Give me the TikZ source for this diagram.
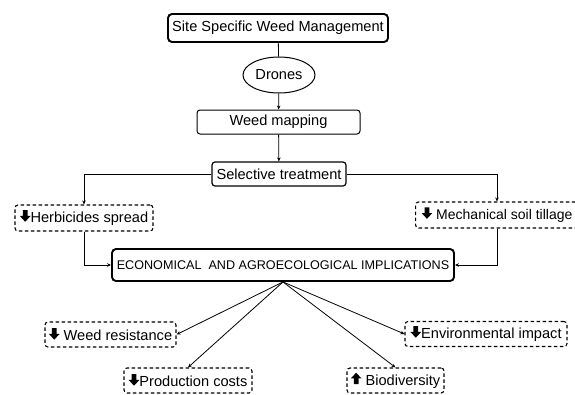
\documentclass[tikz,border=0pt]{standalone}
\usepackage{fontspec}
\setmainfont{Liberation Sans}
\usetikzlibrary{shapes.geometric, arrows.meta, positioning}

% thick block arrows used inside the effect boxes
\newcommand{\dnarr}{\tikz[baseline=-1pt,x=1pt,y=1pt,solid,sharp corners]\fill (-2.4,11.5) -- (2.4,11.5) -- (2.4,5.8) -- (5.4,5.8) -- (0,0) -- (-5.4,5.8) -- (-2.4,5.8) -- cycle;}
\newcommand{\uparr}{\tikz[baseline=-1pt,x=1pt,y=1pt,solid,sharp corners]\fill (-2.4,0) -- (2.4,0) -- (2.4,5.8) -- (5.4,5.8) -- (0,11.5) -- (-5.4,5.8) -- (-2.4,5.8) -- cycle;}

\begin{document}
\begin{tikzpicture}[x=1pt, y=-1pt,
    stepbox/.style={rectangle, draw, rounded corners=3pt, line width=1pt,
                    inner sep=0pt, font=\fontsize{14.6}{16}\selectfont},
    effect/.style={stepbox, dashed, dash pattern=on 3.5pt off 2.5pt, line width=1.1pt},
    link/.style={draw, line width=0.8pt, -{Stealth[length=4pt,width=3.5pt]}}
]
    \useasboundingbox (0,0) rectangle (575,394);
    \node[stepbox, line width=1.9pt, rounded corners=4pt, minimum width=220pt, minimum height=28pt] (sswm) at (278,28) {Site Specific Weed Management};
    \node[ellipse, draw, line width=1pt, minimum width=72pt, minimum height=36pt, inner sep=0pt, font=\fontsize{14.6}{16}\selectfont] (drones) at (279,75) {Drones};
    \node[stepbox, minimum width=163pt, minimum height=24pt] (mapping) at (278.5,122) {Weed mapping};
    \node[stepbox, line width=1.2pt, minimum width=134pt, minimum height=24pt] (select) at (279,174) {Selective treatment};
    \node[effect, minimum width=138pt, minimum height=26pt] (herb) at (84,218) {\dnarr Herbicides spread};
    \node[effect, anchor=west, inner xsep=6pt, minimum height=26pt, font=\fontsize{14}{16}\selectfont] (tillage) at (415,215) {\dnarr\ Mechanical soil tillage};
    \node[stepbox, line width=1.9pt, rounded corners=4pt, minimum width=342pt, minimum height=32pt, font=\fontsize{12.6}{14}\selectfont] (econ) at (283,265) {ECONOMICAL\ \ AND AGROECOLOGICAL IMPLICATIONS};
    \node[effect, minimum width=131pt, minimum height=25pt] (resist) at (110.5,334.5) {\dnarr\ Weed resistance};
    \node[effect, minimum width=128pt, minimum height=25pt] (costs) at (188,380.5) {\dnarr Production costs};
    \node[effect, minimum width=162pt, minimum height=25pt] (envir) at (486,334) {\dnarr Environmental impact};
    \node[effect, minimum width=97pt, minimum height=25pt] (biodiv) at (395.5,380.5) {\uparr\ Biodiversity};

    \draw[line width=0.8pt] (sswm) -- (drones);
    \path[link] (drones) -- (mapping);
    \path[link] (mapping) -- (select);
    \path[link] (select.west) -| (herb.north);
    \path[link] (select.east) -| (tillage.north);
    \path[link] (herb.south) |- (econ.west);
    \path[link] (tillage.south) |- (econ.east);
    \path[link] (econ.south) -- (resist.east);
    \path[link] (econ.south) -- (costs.north);
    \path[link] (econ.south) -- (envir.west);
    \path[link] (econ.south) -- (biodiv.north);
\end{tikzpicture}
\end{document}
